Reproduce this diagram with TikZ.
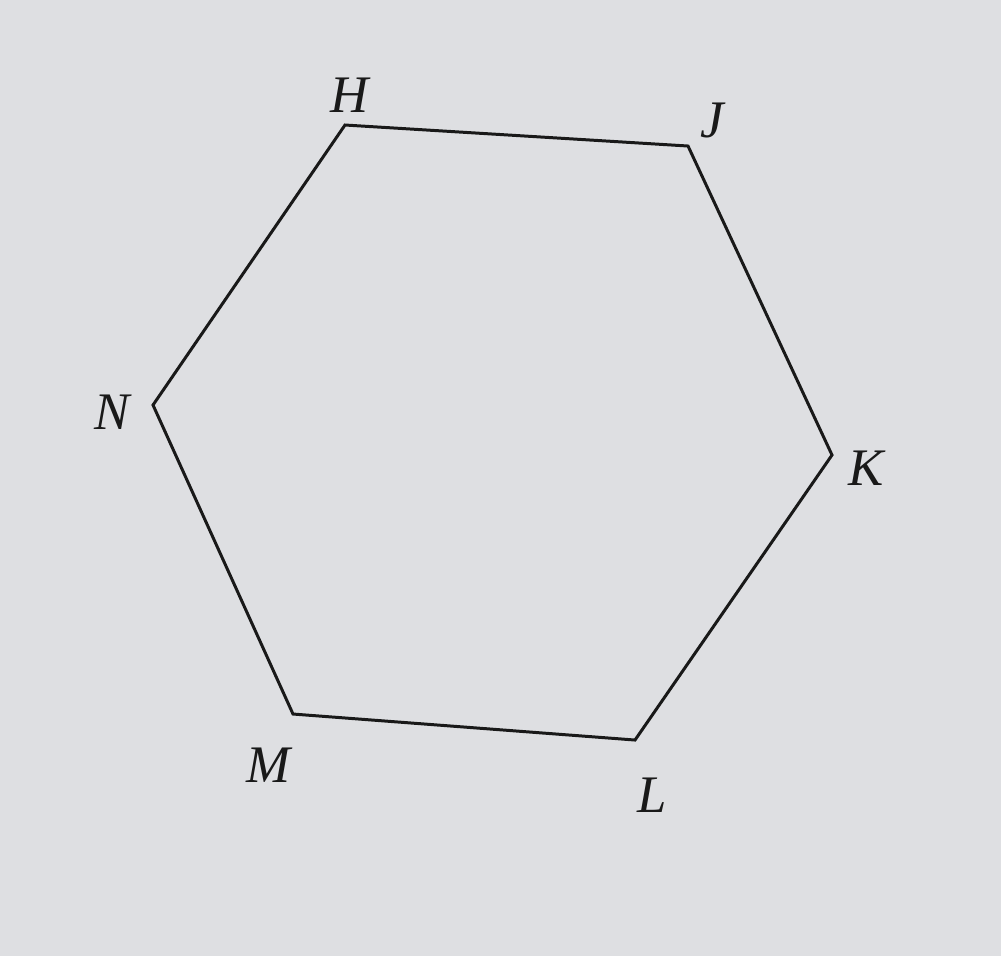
\documentclass[tikz,border=0pt]{standalone}
\usepackage{fontspec}
\setmainfont{Liberation Serif}
\definecolor{paper}{RGB}{222,223,226}
\definecolor{ink}{RGB}{25,25,25}
\begin{document}
\begin{tikzpicture}[x=0.01cm,y=-0.01cm,
  edge/.style={draw=ink,line width=0.85pt,line join=miter},
  lbl/.style={text=ink,font=\fontsize{15}{18}\selectfont\itshape,inner sep=0pt}]
\fill[paper] (0,0) rectangle (1001,956);
\useasboundingbox (0,0) rectangle (1001,956);
\coordinate (H) at (345,125);
\coordinate (J) at (688,146);
\coordinate (K) at (832,455);
\coordinate (L) at (635,740);
\coordinate (M) at (293,714);
\coordinate (N) at (153,405);
\draw[edge] (H) -- (J) -- (K) -- (L) -- (M) -- (N) -- cycle;
\node[lbl] (lH) at (350,95) {H};
\node[lbl] (lJ) at (712,120) {J};
\node[lbl] (lK) at (866,468) {K};
\node[lbl] (lL) at (652,795) {L};
\node[lbl] (lM) at (268,765) {M};
\node[lbl] (lN) at (112,412) {N};
\end{tikzpicture}
\end{document}
